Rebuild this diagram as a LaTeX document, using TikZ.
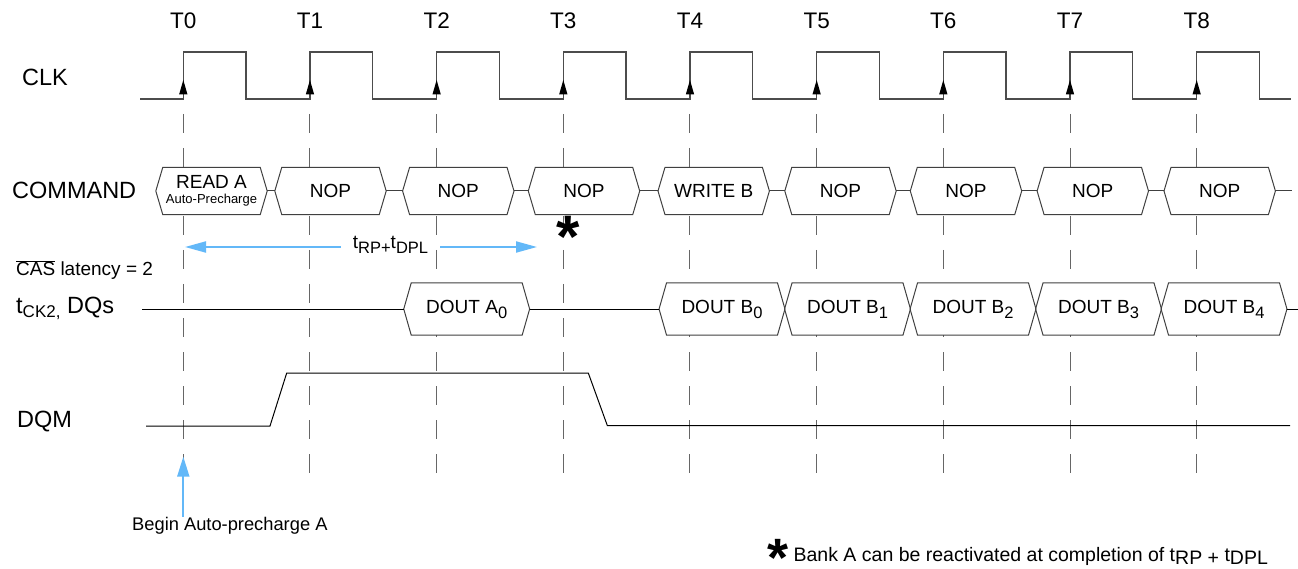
\documentclass[tikz,border=0pt]{standalone}
\usepackage{fontspec}
\setmainfont{Liberation Sans}
\usetikzlibrary{arrows.meta}

\definecolor{tipblue}{RGB}{99,184,248}
\newcommand{\dn}[1]{\raisebox{-5pt}{\fontsize{16.5}{16.5}\selectfont #1}}

\tikzset{
  wave/.style={draw=black!70, line width=1.1pt},
  wire/.style={draw=black, line width=1pt},
  guide/.style={draw=black!60, line width=1pt, dash pattern=on 19pt off 15pt},
  cmdbox/.style={fill=white, minimum width=97pt, minimum height=47pt, inner sep=0pt,
    font=\fontsize{19}{15}\selectfont},
  dqbox/.style={fill=white, minimum width=110.5pt, minimum height=52pt, inner sep=0pt,
    font=\fontsize{19}{15}\selectfont},
  hex/.style={draw=black!75, line width=1pt},
  sig/.style={anchor=base west, inner sep=0pt, font=\fontsize{23.5}{23.5}\selectfont},
  barrow/.style={draw=tipblue, line width=2pt, -{Triangle[length=21pt,width=11pt]}},
}

\begin{document}
\begin{tikzpicture}[x=1pt, y=-1pt]
  \useasboundingbox (0,0) rectangle (1298,569);

  % signal names
  \node[sig] (clk) at (22,86) {CLK};
  \node[sig] (cmd) at (12,199) {COMMAND};
  \node[sig, font=\fontsize{19}{19}\selectfont] (cas) at (16,276) {$\overline{\mbox{CAS}}$ latency = 2};
  \node[sig] (dqs) at (16,313) {t\raisebox{-4pt}{\fontsize{17}{17}\selectfont CK2,} DQs};
  \node[sig] (dqm) at (17,427) {DQM};

  % clock edges
  \foreach \k in {0,...,8} {
    \node[anchor=base, font=\fontsize{22.5}{22.5}\selectfont] (t\k) at ({183.3+126.67*\k},29) {T\k};
    \draw[guide] ({183.3+126.67*\k},114) -- ++(0,361);
  }
  \draw[wave] (140,99) \foreach \k in {0,...,8} {
    -- ({183.3+126.67*\k},99) -- ++(0,-47) -- ++(62.7,0) -- ++(0,47) } -- (1290.7,99);
  \foreach \k in {0,...,8}
    \fill[black] ({183.3+126.67*\k},80) -- ++(-4.2,14.5) -- ++(8.4,0) -- cycle;

  % command row
  \node[cmdbox, align=center] (c0) at (211.5,191) {READ A\\{\fontsize{13}{15}\selectfont Auto-Precharge}};
  \foreach \x/\t [count=\i] in {330.5/NOP, 458.3/NOP, 584/NOP, 713.7/WRITE B,
      840.5/NOP, 966/NOP, 1092.8/NOP, 1219.7/NOP}
    \node[cmdbox] (c\i) at (\x,191) {\t};
  \foreach \i in {0,...,8}
    \draw[hex] (c\i.north west) -- (c\i.north east) -- ([xshift=7pt]c\i.east)
      -- (c\i.south east) -- (c\i.south west) -- ([xshift=-7pt]c\i.west) -- cycle;
  \foreach \i [evaluate=\i as \j using int(\i+1)] in {0,...,7}
    \draw[hex] ([xshift=7pt]c\i.east) -- ([xshift=-7pt]c\j.west);
  \coordinate (cend) at (1291.7,191);
  \draw[hex] ([xshift=7pt]c8.east) -- (cend);

  % data row
  \node[dqbox] (a0) at (466.7,309) {DOUT A\dn{0}};
  \foreach \x [count=\i from 0] in {722,847.5,973,1098.5,1224}
    \node[dqbox] (b\i) at (\x,309) {DOUT B\dn{\i}};
  \foreach \n in {a0,b0,b1,b2,b3,b4}
    \draw[hex] (\n.north west) -- (\n.north east) -- ([xshift=7.5pt]\n.east)
      -- (\n.south east) -- (\n.south west) -- ([xshift=-7.5pt]\n.west) -- cycle;
  \coordinate (dqa) at (142,309);
  \coordinate (dqb) at (1298,309);
  \draw[wire] (dqa) -- ([xshift=-7.5pt]a0.west);
  \draw[wire] ([xshift=7.5pt]a0.east) -- ([xshift=-7.5pt]b0.west);
  \draw[wire] ([xshift=7.5pt]b4.east) -- (dqb);

  % DQM
  \draw[wire] (146,426) -- (270,426) -- (286.7,373) -- (588.3,373) -- (607.3,425.5) -- (1290,425.5);

  % timing arrows
  \node[font=\fontsize{19}{19}\selectfont, inner xsep=12pt] (trp) at (390.5,245) {t\dn{RP+}t\dn{DPL}};
  \coordinate (trpl) at (185,247);
  \coordinate (trpr) at (537,247);
  \draw[barrow] (trp.west |- trpl) -- (trpl);
  \draw[barrow] (trp.east |- trpr) -- (trpr);
  \node[font=\fontsize{60}{60}\bfseries, anchor=base, inner sep=0pt] (star) at (567.7,258) {*};

  \node[anchor=base west, inner sep=0pt, font=\fontsize{18.3}{18.3}\selectfont] (bap) at (132,530) {Begin Auto-precharge A};
  \coordinate (baptip) at (183.3,456.7);
  \draw[barrow, -{Triangle[length=20pt,width=12pt]}] (bap.north -| baptip) -- (baptip);

  % footnote
  \node[anchor=base west, inner sep=0pt, font=\fontsize{19.5}{19.5}\selectfont] (note) at (767,561)
    {{\fontsize{54}{54}\bfseries\raisebox{-15pt}[18pt][0pt]{*}} Bank A can be reactivated at completion of t\raisebox{-3pt}{RP + }t\raisebox{-3pt}{DPL}};
\end{tikzpicture}
\end{document}
